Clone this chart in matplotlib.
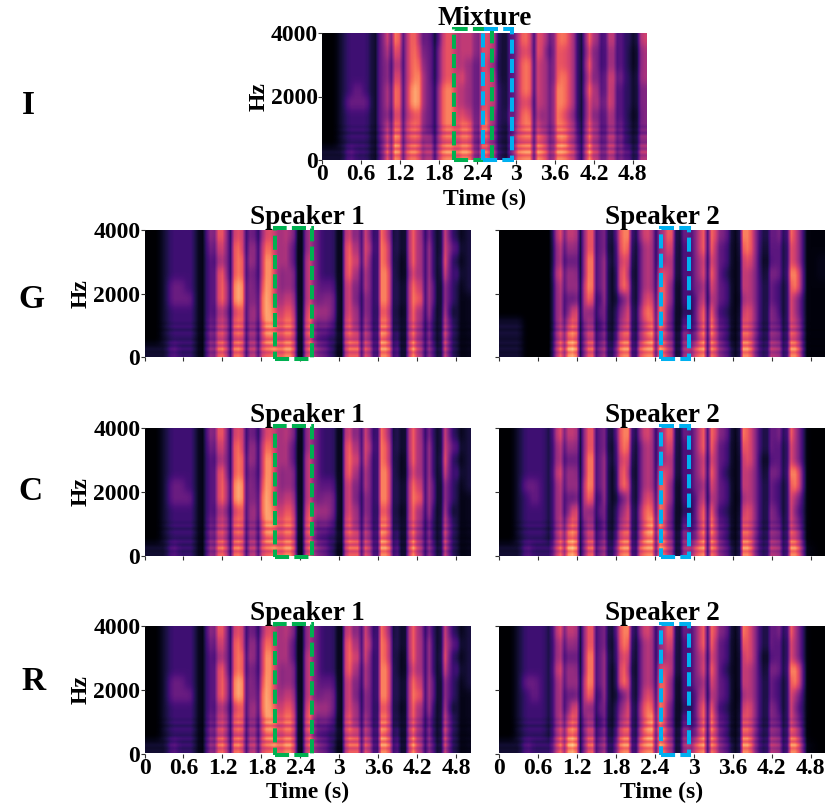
import matplotlib
matplotlib.use('Agg')
import matplotlib.pyplot as plt
from matplotlib.patches import Rectangle
import numpy as np

plt.rcParams['font.family'] = ['Liberation Serif', 'DejaVu Serif']
plt.rcParams['font.weight'] = 'bold'

W, H = 831, 809
DUR = 5.02

time_ticks = [0, 0.6, 1.2, 1.8, 2.4, 3.0, 3.6, 4.2, 4.8]
time_labels = ['0', '0.6', '1.2', '1.8', '2.4', '3', '3.6', '4.2', '4.8']
hz_ticks = [0, 2000, 4000]

# level (0-9): one string per 400 Hz band, top band first,
# one digit per 0.125 s
mixture = [
    "0012221367" "4743266555" "6533475646" "7527446413" "6",
    "0012221356" "4753366555" "6533465636" "6526345412" "5",
    "0012221345" "4763366544" "6433476546" "6527345412" "5",
    "0012221346" "4773366644" "6533476546" "7526356513" "5",
    "0012321357" "4873477544" "6543476547" "7527456413" "4",
    "0013331357" "4873477544" "6543465547" "7526466413" "4",
    "0012221346" "4663477654" "7444476447" "6426355412" "4",
    "0012221367" "5763477774" "8443577547" "7537455513" "4",
    "0012221378" "5765577774" "7443677757" "8548466614" "5",
    "1113221388" "6866688885" "8553788868" "8659576625" "6",
]
speaker1 = [
    "0012222167" "3653465541" "5322163637" "5137441721" "2",
    "0012222156" "3754575531" "5322174647" "6137451732" "2",
    "0012222145" "3764585531" "6322175637" "6127451821" "2",
    "0012222147" "3763585441" "6322174537" "7126451722" "2",
    "0013322147" "4873685441" "6333163537" "7137552521" "2",
    "0013332147" "4873785551" "6344163437" "7137652521" "1",
    "0012222145" "3664786661" "7454164436" "6127451611" "1",
    "0012222156" "4764687771" "8343174537" "7137441721" "1",
    "0012222167" "4765687771" "8332276648" "7238451821" "1",
    "1113222178" "5866778881" "8442177758" "8339552821" "1",
]
speaker2_g = [
    "0000000655" "3734377364" "4734367541" "7734347511" "1",
    "0000000544" "3734276254" "4633367431" "6733336511" "1",
    "0000000533" "3835265254" "4533356431" "5632336511" "2",
    "0000000644" "3835174254" "6533357421" "5533437711" "2",
    "0000000544" "4835175254" "7423346431" "5534326711" "1",
    "0000000533" "4725135265" "7423255431" "4534326411" "1",
    "0000000536" "4434246376" "7322267321" "5634426411" "1",
    "1110000557" "3524256367" "7324268431" "6634436511" "1",
    "1110000678" "3735377478" "7436378531" "7735547611" "1",
    "1110000789" "3846588688" "8537688642" "8836658811" "1",
]
speaker2_r = [
    "0012221655" "3734377364" "4734367541" "7634347410" "0",
    "0012221544" "3734276254" "4633367431" "6634336410" "0",
    "0012221533" "3835265254" "4533356431" "5632336410" "0",
    "0012221644" "3835174254" "6533357421" "5533437710" "0",
    "0013321544" "4835175254" "7423346431" "5534326710" "0",
    "0012321533" "4725135265" "7423255431" "4534326410" "0",
    "0012221536" "4434246376" "7322267321" "5634426310" "0",
    "0012221557" "3524256378" "7324268431" "6634436410" "0",
    "0012221678" "3735377488" "8436378531" "7735547610" "0",
    "1113222789" "3846588688" "8537688642" "8836658821" "0",
]

# fine gaps between syllables, one digit per 1/16 s, 9 = nothing removed
gate_mix = "9999999999" "9985999599" "5999978848" "9998899976" "9999433779" "9994999669" "9999636999" "5588579933" "88"
gate_s1 = "9999999999" "9963397589" "9499948848" "9998899932" "8999888842" "9999499439" "9958327999" "4993289994" "45"
gate_s2 = "9999999999" "9999996999" "3999588336" "9993399994" "9999337779" "9939977752" "2999963388" "8339999322" "22"

# harmonic stripes of the 12 lowest 100 Hz rows, top row first
low_stripes = "989798797978"

GREEN = '#00b050'
BLUE = '#00b0f0'
mix_green = [2.04, 2.62]
mix_blue = [2.49, 2.93]
s1_green = [2.01, 2.58]
s2_blue = [2.5, 2.93]


def digits(s):
    return np.array([int(c) for c in s], dtype=float)


def soften(a, kernel, axis):
    # takes the block edges off the read grid
    k = np.array(kernel, dtype=float) / sum(kernel)
    n = len(k) // 2
    pad = [(0, 0), (0, 0)]
    pad[axis] = (n, n)
    return np.apply_along_axis(lambda v: np.convolve(v, k, mode='valid'), axis,
                               np.pad(a, pad, mode='edge'))


def to_grid(rows, gate):
    grid = np.array([digits(r) for r in rows])
    grid = np.repeat(grid, 2, axis=1)[:, :len(gate)]
    grid = soften(grid, [1, 2, 1], 1) * digits(gate) / 9
    grid = soften(np.repeat(grid, 4, axis=0), [1, 2, 3, 2, 1], 0)
    grid[-len(low_stripes):] *= digits(low_stripes)[:, None] / 9
    return grid


def make_panel(px, rows, gate, title, boxes, show_y=True, show_x=False, box_y=(-60, 4060), pad=4):
    left, top, w, h = px
    ax = fig.add_axes([left / W, 1 - (top + h) / H, w / W, h / H])
    ax.imshow(to_grid(rows, gate), cmap='magma', vmin=0, vmax=9.5, aspect='auto',
              interpolation='bilinear', extent=[0, DUR, 0, 4000])
    for s in ax.spines.values():
        s.set_visible(False)
    ax.set_xticks(time_ticks)
    ax.set_yticks(hz_ticks)
    ax.tick_params(length=3, width=0.8, color='#333333', labelsize=17)
    ax.tick_params(axis='x', pad=0)
    ax.tick_params(axis='y', pad=0)
    if show_x:
        ax.set_xticklabels(time_labels)
        ax.set_xlabel('Time (s)', fontsize=17, fontweight='bold', labelpad=2.5)
    else:
        ax.set_xticklabels([])
    if show_y:
        ax.set_ylabel('Hz', fontsize=17, fontweight='bold', labelpad=1)
    else:
        ax.set_yticklabels([])
    ax.set_title(title, fontsize=19.5, fontweight='bold', pad=pad)
    for sp, col in boxes:
        ax.add_patch(Rectangle((sp[0], box_y[0]), sp[1] - sp[0], box_y[1] - box_y[0], fill=False,
                               edgecolor=col, linewidth=2.9, linestyle=(0, (3.5, 1.3)),
                               clip_on=False, zorder=5))
    return ax


fig = plt.figure(figsize=(W / 100, H / 100), dpi=100)

make_panel((322, 33, 325, 127), mixture, gate_mix, 'Mixture',
           [(mix_green, GREEN), (mix_blue, BLUE)], show_x=True, box_y=(0, 4115), pad=6)

rows_px = [230, 428, 626]
s2_rows = [speaker2_g, speaker2_r, speaker2_r]
for i, top in enumerate(rows_px):
    last = i == 2
    make_panel((144.5, top, 326, 127.5), speaker1, gate_s1, 'Speaker 1',
               [(s1_green, GREEN)], show_x=last)
    make_panel((499, top, 326, 127.5), s2_rows[i], gate_s2, 'Speaker 2',
               [(s2_blue, BLUE)], show_y=False, show_x=last)

for letter, x, y in [('I', 28, 105), ('G', 31, 300), ('C', 30, 492), ('R', 33, 682)]:
    fig.text(x / W, 1 - y / H, letter, fontsize=24, fontweight='bold', ha='center', va='center')

fig.savefig('out.png', dpi=100)
